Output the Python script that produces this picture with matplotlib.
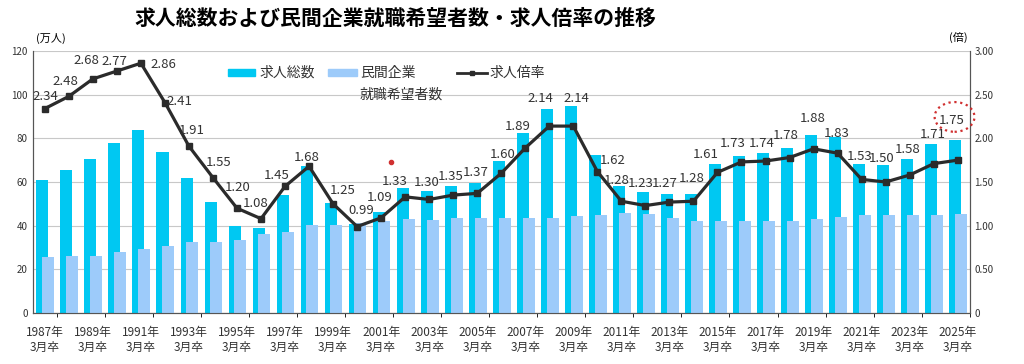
import matplotlib.pyplot as plt
from matplotlib.patches import Ellipse, Rectangle
from matplotlib.lines import Line2D
import numpy as np

plt.rcParams['font.family'] = ['Noto Sans CJK JP', 'DejaVu Sans']

# donnees
years = list(range(1987, 2026))
kyujin = [60.8, 65.5, 70.4, 77.9, 84.0, 73.8, 61.7, 50.7, 40.0, 39.1,
          54.1, 67.5, 50.2, 40.7, 46.1, 57.3, 56.0, 58.3, 59.6, 69.8,
          82.5, 93.3, 94.8, 72.5, 58.2, 55.6, 54.4, 54.3, 68.3, 71.9,
          73.4, 75.5, 81.4, 80.5, 68.2, 67.6, 70.7, 77.4, 79.4]
kibou = [25.7, 26.3, 26.3, 28.1, 29.3, 30.6, 32.4, 32.7, 33.3, 36.2,
         37.3, 40.3, 40.3, 41.2, 42.3, 43.0, 42.6, 43.3, 43.5, 43.6,
         43.7, 43.7, 44.3, 44.7, 45.6, 45.4, 43.4, 42.3, 42.3, 42.0,
         42.2, 42.3, 43.2, 44.0, 44.8, 45.0, 45.0, 45.1, 45.5]
bairitsu = [2.34, 2.48, 2.68, 2.77, 2.86, 2.41, 1.91, 1.55, 1.20, 1.08,
            1.45, 1.68, 1.25, 0.99, 1.09, 1.33, 1.30, 1.35, 1.37, 1.60,
            1.89, 2.14, 2.14, 1.62, 1.28, 1.23, 1.27, 1.28, 1.61, 1.73,
            1.74, 1.78, 1.88, 1.83, 1.53, 1.50, 1.58, 1.71, 1.75]

# decalage des etiquettes en pixels (dx, dy)
lab_off = [(1, 12), (-3, 15), (-6, 18), (-2, 10), (23, -1), (15, 1), (3, 16), (6, 15),
           (1, 21), (-5, 15), (-8, 11), (-2, 9), (10, 13), (4, 16), (-1, 20), (-10, 15),
           (-3, 17), (-3, 19), (-2, 21), (1, 19), (-8, 21), (-9, 28), (3, 28), (15, 11),
           (-5, 21), (-5, 22), (-5, 19), (-2, 23), (-12, 18), (-9, 18), (-4, 18), (-4, 22),
           (-1, 30), (-1, 20), (-2, 23), (-4, 23), (-2, 26), (-1, 29), (-6, 40)]

c_kyujin = '#00C8F2'
c_kibou = '#9DCBFA'
c_line = '#2b2b2b'

x = np.arange(len(years))

fig = plt.figure(figsize=(10.24, 3.64), dpi=100)
ax = fig.add_axes([0.032, 0.14, 0.915, 0.72])
ax2 = ax.twinx()

ax.bar(x - 0.1, kyujin, width=0.5, color=c_kyujin, zorder=2)
ax.bar(x + 0.14, kibou, width=0.5, color=c_kibou, zorder=3)

ax2.plot(x, bairitsu, color=c_line, lw=2.3, marker='s', ms=3.8, zorder=5)

for i, r in enumerate(bairitsu):
    dx, dy = lab_off[i]
    ax2.annotate(f'{r:.2f}', (x[i], r), xytext=(dx, dy), textcoords='offset pixels',
                 ha='center', va='center', fontsize=9.5, color='#333333', zorder=6)

ax.set_xlim(-0.5, len(x) - 0.5)
ax.set_ylim(0, 120)
ax2.set_ylim(0, 3)
ax.set_yticks(range(0, 121, 20))
ax2.set_yticks(np.arange(0, 3.01, 0.5))
ax2.set_yticklabels(['0', '0.50', '1.00', '1.50', '2.00', '2.50', '3.00'])
ax.grid(axis='y', color='#c8c8c8', lw=0.8, zorder=0)
ax.set_axisbelow(True)

ax.set_xticks(x[::2])
ax.set_xticklabels([f'{y}年\n3月卒' for y in years[::2]], fontsize=8.5, color='#333333')
ax.set_xticks(np.arange(0.5, len(x), 2), minor=True)
ax.tick_params(axis='x', which='major', length=0, pad=9)
ax.tick_params(axis='x', which='minor', length=3)
ax.tick_params(axis='y', labelsize=7, length=0, colors='#333333')
ax2.tick_params(axis='y', labelsize=7, length=0, colors='#333333')

for a in (ax, ax2):
    a.spines['top'].set_visible(False)
    for s in ('left', 'right', 'bottom'):
        a.spines[s].set_color('#555555')

# cercle rouge pointille autour de 1.75
circ = Ellipse((37.87, 2.245), 1.66, 0.34, fill=False, ls=':', lw=1.6,
               color='#d03030', zorder=7, clip_on=False)
ax2.add_patch(circ)
ax2.plot([14.4], [1.73], marker='o', ms=3, color='#d03030', zorder=7)

# legende manuelle
W, H = 1024.0, 364.0
ly = 1 - 73 / H
fig.add_artist(Rectangle((228 / W, ly - 3.5 / H), 27 / W, 7 / H, color=c_kyujin,
                         transform=fig.transFigure))
fig.text(260 / W, ly, '求人総数', fontsize=10, va='center', ha='left', color='#333333')
fig.add_artist(Rectangle((328 / W, ly - 3.5 / H), 29 / W, 7 / H, color=c_kibou,
                         transform=fig.transFigure))
fig.text(360 / W, ly, '民間企業', fontsize=10, va='center', ha='left', color='#333333')
fig.text(360 / W, 1 - 95 / H, '就職希望者数', fontsize=10, va='center', ha='left', color='#333333')
fig.add_artist(Line2D([457 / W, 487 / W], [ly, ly], color=c_line, lw=2,
                      transform=fig.transFigure))
fig.add_artist(Line2D([472 / W], [ly], color=c_line, marker='s', ms=3.5,
                      transform=fig.transFigure))
fig.text(490 / W, ly, '求人倍率', fontsize=10, va='center', ha='left', color='#333333')

fig.text(0.386, 0.95, '求人総数および民間企業就職希望者数・求人倍率の推移',
         ha='center', va='center', fontsize=15, fontweight='bold')
fig.text(0.035, 0.895, '(万人)', ha='left', va='center', fontsize=8)
fig.text(0.936, 0.898, '(倍)', ha='center', va='center', fontsize=8)

fig.savefig('out.png', dpi=100)
